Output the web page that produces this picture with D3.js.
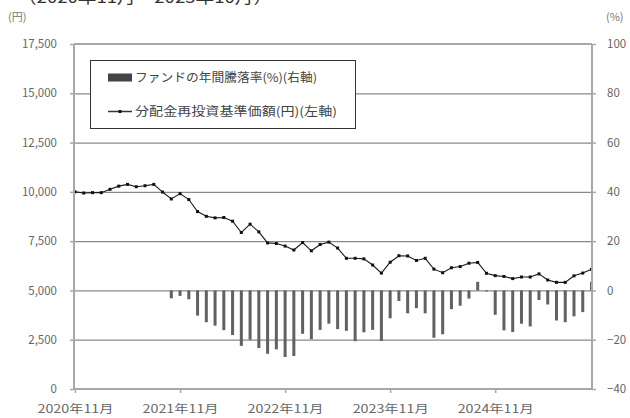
<!DOCTYPE html>
<html>
<head>
<meta charset="utf-8">
<script src="https://cdn.jsdelivr.net/npm/d3@7"></script>
<style>
body { margin: 0; background: #fff; }
text { font-family: "Noto Sans CJK JP", "Noto Sans", sans-serif; }
</style>
</head>
<body>
<script>
// monthly categories, 2020/11 .. 2025/10
var startYear = 2020, startMonth = 11, monthCount = 60;
var months = d3.range(monthCount).map(function (i) {
    var m = startMonth - 1 + i;
    return (startYear + Math.floor(m / 12)) + "年" + (m % 12 + 1) + "月";
});

// 分配金再投資基準価額 (円), left axis
var navValues = [
    10000, 9940, 9960, 9960, 10130, 10290, 10380, 10260, 10310, 10380,
    9990, 9640, 9910, 9610, 9000, 8760, 8680, 8700, 8510, 7940,
    8360, 7970, 7410, 7380, 7250, 7050, 7430, 7010, 7330, 7450,
    7150, 6630, 6630, 6600, 6290, 5880, 6430, 6760, 6750, 6520,
    6630, 6080, 5900, 6150, 6210, 6380, 6420, 5870, 5750, 5710,
    5600, 5680, 5680, 5840, 5530, 5410, 5410, 5740, 5880, 6070
];

// ファンドの年間騰落率 (%), right axis
var returnValues = [
    null, null, null, null, null, null, null, null, null, null,
    null, -3.2, -2.2, -3.6, -10.2, -12.9, -14.3, -16.1, -18.1, -22.5,
    -20.0, -23.4, -25.7, -23.9, -27.0, -26.6, -17.6, -19.8, -16.0, -13.5,
    -15.7, -16.4, -20.6, -17.0, -16.0, -20.5, -11.3, -4.3, -9.3, -7.2,
    -9.3, -19.2, -17.8, -7.6, -6.2, -3.3, 3.5, -0.4, -9.9, -16.2,
    -16.9, -13.5, -14.6, -3.9, -5.7, -12.2, -12.9, -10.5, -8.8, 3.5
];

var leftTicks = [0, 2500, 5000, 7500, 10000, 12500, 15000, 17500];
var rightTicks = [-40, -20, 0, 20, 40, 60, 80, 100];
var xTickLabels = ["2020年11月", "2021年11月", "2022年11月", "2023年11月", "2024年11月"];

var legendLabels = ["ファンドの年間騰落率(%)(右軸)", "分配金再投資基準価額(円)(左軸)"];

const W = 630, H = 418;
const plot = { left: 74, right: 592, top: 44, bottom: 389 };

const canvas =
    d3.select("body")
    .append("svg")
    .attr("width", W)
    .attr("height", H);

var x = d3.scalePoint()
    .domain(months)
    .range([plot.left + 1, plot.right - 0.5]);

var yL = d3.scaleLinear().domain([0, 17500]).range([plot.bottom, plot.top]);
var yR = d3.scaleLinear().domain([-40, 100]).range([plot.bottom, plot.top]);

// period caption, mostly cut off at the top (as in the source)
canvas.append("text")
    .attr("x", 18)
    .attr("y", 3)
    .attr("font-size", 16)
    .attr("fill", "#333")
    .attr("textLength", 254)
    .attr("lengthAdjust", "spacingAndGlyphs")
    .text("（2020年11月～2025年10月）");

// gridlines
canvas.append("g")
    .attr("class", "grid")
    .attr("transform", "translate(" + plot.left + ",0)")
    .call(d3.axisLeft(yL).tickValues(leftTicks.slice(1)).tickSize(-(plot.right - plot.left)).tickFormat(""))
    .call(g => g.select(".domain").remove())
    .call(g => g.selectAll("line").attr("stroke", "#8a8a8a").attr("stroke-width", 1.2));

// bars
canvas.append("g")
    .selectAll("rect")
    .data(months.map((m, i) => ({ m: m, v: returnValues[i] })).filter(d => d.v !== null))
    .enter()
    .append("rect")
    .attr("x", d => x(d.m) - 1.5)
    .attr("y", d => Math.min(yR(d.v), yR(0)))
    .attr("width", 3)
    .attr("height", d => Math.abs(yR(d.v) - yR(0)))
    .attr("fill", "#616161");

// nav line
var lineFunction =
    d3.line()
    .x((d, i) => x(months[i]))
    .y(d => yL(d));

canvas.append("path")
    .attr("d", lineFunction(navValues))
    .attr("fill", "none")
    .attr("stroke", "#1a1a1a")
    .attr("stroke-width", 1.1);

canvas.append("g")
    .selectAll("rect")
    .data(navValues)
    .enter()
    .append("rect")
    .attr("x", (d, i) => x(months[i]) - 1.5)
    .attr("y", d => yL(d) - 1.5)
    .attr("width", 3)
    .attr("height", 3)
    .attr("fill", "#111");

// axes
var axisColor = "#a8a8a8";

var left = canvas.append("g")
    .attr("transform", "translate(" + plot.left + ",0)")
    .call(d3.axisLeft(yL).tickValues(leftTicks).tickSize(4).tickPadding(13).tickFormat(d3.format(",")));

var right = canvas.append("g")
    .attr("transform", "translate(" + plot.right + ",0)")
    .call(d3.axisRight(yR).tickValues(rightTicks).tickSize(4).tickPadding(11).tickFormat(d3.format("d")));

var bottom = canvas.append("g")
    .attr("transform", "translate(0," + plot.bottom + ")")
    .call(d3.axisBottom(x).tickValues(xTickLabels).tickSize(4).tickPadding(12));

[left, right, bottom].forEach(function (g) {
    g.select(".domain").attr("stroke", axisColor).attr("stroke-width", 2);
    g.selectAll(".tick line").attr("stroke", axisColor).attr("stroke-width", 1.5);
    g.selectAll(".tick text")
        .attr("fill", "#666")
        .attr("font-size", 11.5)
        .attr("font-family", "\"Noto Sans CJK JP\", sans-serif");
});
left.select(".domain").attr("d", "M0," + plot.bottom + "V" + plot.top);
right.select(".domain").attr("d", "M0," + plot.bottom + "V" + plot.top);
bottom.select(".domain").attr("d", "M" + plot.left + ",0H" + plot.right);
bottom.selectAll(".tick text")
    .attr("textLength", 76)
    .attr("lengthAdjust", "spacingAndGlyphs");

// top border line at 17,500
canvas.append("line")
    .attr("x1", plot.left).attr("x2", plot.right)
    .attr("y1", yL(17500)).attr("y2", yL(17500))
    .attr("stroke", axisColor)
    .attr("stroke-width", 2);

// unit labels
canvas.append("text")
    .attr("x", 8).attr("y", 21)
    .attr("font-size", 11).attr("fill", "#777")
    .text("(円)");
canvas.append("text")
    .attr("x", 606).attr("y", 21)
    .attr("font-size", 11).attr("fill", "#777")
    .text("(%)");

// legend
var legend = canvas.append("g");
legend.append("rect")
    .attr("x", 90.5).attr("y", 60.5)
    .attr("width", 265).attr("height", 68)
    .attr("fill", "#fff")
    .attr("stroke", "#333")
    .attr("stroke-width", 1);

legend.append("rect")
    .attr("x", 108).attr("y", 73.5)
    .attr("width", 24).attr("height", 8)
    .attr("fill", "#444");

legend.append("line")
    .attr("x1", 108).attr("x2", 132)
    .attr("y1", 111.5).attr("y2", 111.5)
    .attr("stroke", "#333").attr("stroke-width", 1.5);
legend.append("rect")
    .attr("x", 118.5).attr("y", 110).attr("width", 3).attr("height", 3)
    .attr("fill", "#111");

legend.selectAll("text.lbl")
    .data(legendLabels)
    .enter()
    .append("text")
    .attr("class", "lbl")
    .attr("x", 135)
    .attr("y", (d, i) => i === 0 ? 82 : 116)
    .attr("font-size", 12)
    .attr("fill", "#444")
    .attr("textLength", (d, i) => i === 0 ? 182 : 202)
    .attr("lengthAdjust", "spacingAndGlyphs")
    .text(d => d);
</script>
</body>
</html>
